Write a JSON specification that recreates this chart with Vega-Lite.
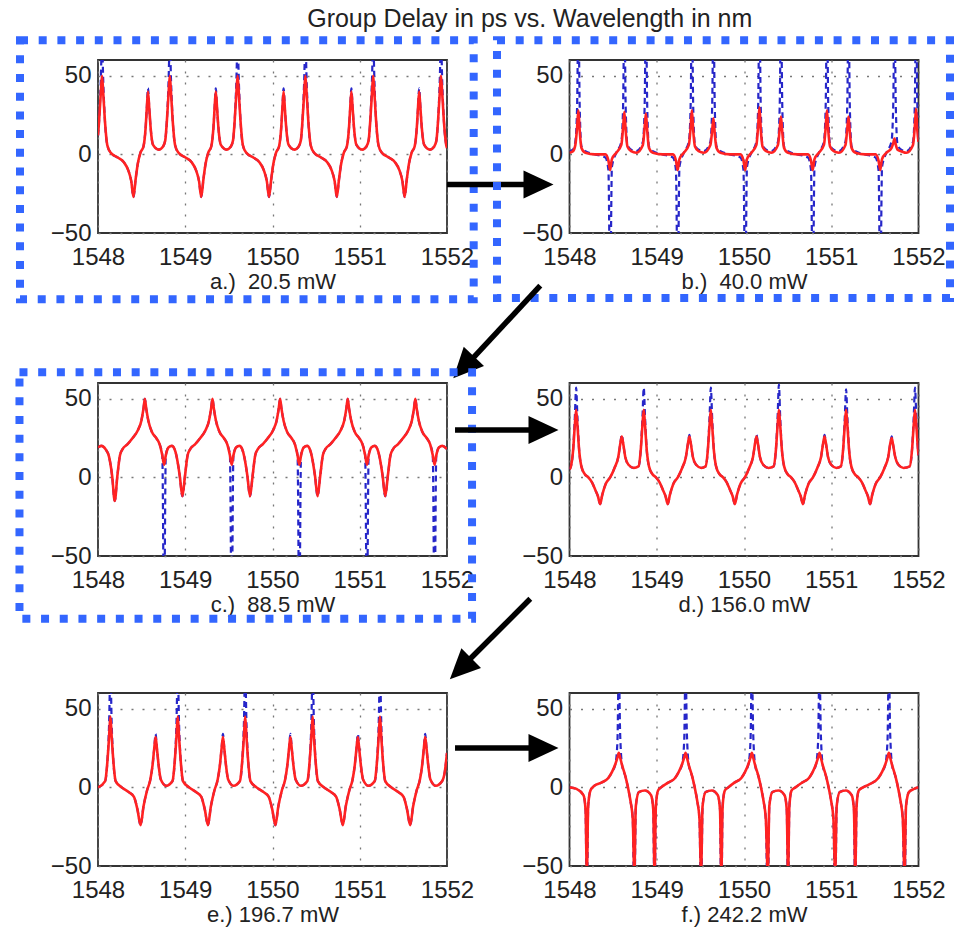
{
  "$schema": "https://vega.github.io/schema/vega-lite/v6.json",
  "background": "white",
  "padding": {"left": 14, "top": 7, "right": 2, "bottom": 0},
  "title": {"text": "Group Delay in ps vs. Wavelength in nm", "anchor": "middle", "fontSize": 25, "fontWeight": "normal", "font": "Liberation Sans", "color": "#222222", "offset": 3, "dx": 45},
  "config": {
    "font": "Liberation Sans",
    "view": {"stroke": "#333333", "strokeWidth": 1.8},
    "axis": {"grid": true, "gridColor": "#777777", "gridDash": [2, 9], "gridWidth": 1.3, "domain": false, "ticks": false, "tickSize": 0, "labelFontSize": 24, "labelColor": "#222222", "labelFont": "Liberation Sans", "labelFlush": false, "labelOverlap": false, "labelBound": false, "titleFont": "Liberation Sans", "titleFontSize": 22, "titleFontWeight": "normal", "titleColor": "#222222"},
    "axisX": {"labelPadding": 12, "titlePadding": 2.5},
    "axisY": {"labelPadding": 7}
  },
  "datasets": {
    "boxes": [
      {"p": "a", "x": 1547.106, "x2": 1552.306, "y": 72.5, "y2": -92.2},
      {"p": "b", "x": 1547.169, "x2": 1552.361, "y": 72.5, "y2": -91.3},
      {"p": "c", "x": 1547.100, "x2": 1552.287, "y": 66.8, "y2": -89.9}
    ],
    "shafts": [
      {"p": "a", "x": 1552.0, "y": -19.2, "x2": 1552.95, "y2": -19.2},
      {"p": "b", "x": 1547.665, "y": -83.5, "x2": 1546.84, "y2": -132.8},
      {"p": "c", "x": 1552.092, "y": 30.1, "x2": 1553.03, "y2": 30.1},
      {"p": "d", "x": 1547.551, "y": -77.2, "x2": 1546.825, "y2": -117.4},
      {"p": "e", "x": 1552.092, "y": 25.0, "x2": 1553.03, "y2": 25.0}
    ],
    "heads": [
      {"p": "a", "x": 1553.049, "y": -19.2},
      {"p": "b", "x": 1546.786, "y": -135.4},
      {"p": "c", "x": 1553.106, "y": 30.1},
      {"p": "d", "x": 1546.751, "y": -121.6},
      {"p": "e", "x": 1553.106, "y": 25.0}
    ],
    "curves": [
      {"p":"a","x":1548.000,"r":12,"b":12},
      {"p":"a","x":1548.011,"r":20,"b":20},
      {"p":"a","x":1548.031,"r":38,"b":45},
      {"p":"a","x":1548.046,"r":50,"b":72},
      {"p":"a","x":1548.061,"r":38,"b":45},
      {"p":"a","x":1548.081,"r":20,"b":20},
      {"p":"a","x":1548.106,"r":6,"b":6},
      {"p":"a","x":1548.146,"r":1,"b":1},
      {"p":"a","x":1548.226,"r":-2,"b":-2},
      {"p":"a","x":1548.296,"r":-5,"b":-5},
      {"p":"a","x":1548.346,"r":-10,"b":-10},
      {"p":"a","x":1548.381,"r":-17,"b":-17},
      {"p":"a","x":1548.406,"r":-27,"b":-27},
      {"p":"a","x":1548.431,"r":-16,"b":-16},
      {"p":"a","x":1548.456,"r":-6,"b":-6},
      {"p":"a","x":1548.486,"r":1,"b":1},
      {"p":"a","x":1548.521,"r":5,"b":5},
      {"p":"a","x":1548.546,"r":17,"b":17},
      {"p":"a","x":1548.559,"r":29,"b":29},
      {"p":"a","x":1548.573,"r":40,"b":42},
      {"p":"a","x":1548.588,"r":29,"b":29},
      {"p":"a","x":1548.603,"r":17,"b":17},
      {"p":"a","x":1548.631,"r":6,"b":6},
      {"p":"a","x":1548.696,"r":3,"b":3},
      {"p":"a","x":1548.746,"r":5,"b":5},
      {"p":"a","x":1548.771,"r":9,"b":9},
      {"p":"a","x":1548.788,"r":20,"b":20},
      {"p":"a","x":1548.808,"r":38,"b":45},
      {"p":"a","x":1548.823,"r":50,"b":72},
      {"p":"a","x":1548.838,"r":38,"b":45},
      {"p":"a","x":1548.858,"r":20,"b":20},
      {"p":"a","x":1548.883,"r":6,"b":6},
      {"p":"a","x":1548.923,"r":1,"b":1},
      {"p":"a","x":1549.003,"r":-2,"b":-2},
      {"p":"a","x":1549.073,"r":-5,"b":-5},
      {"p":"a","x":1549.123,"r":-10,"b":-10},
      {"p":"a","x":1549.158,"r":-17,"b":-17},
      {"p":"a","x":1549.183,"r":-27,"b":-27},
      {"p":"a","x":1549.208,"r":-16,"b":-16},
      {"p":"a","x":1549.233,"r":-6,"b":-6},
      {"p":"a","x":1549.263,"r":1,"b":1},
      {"p":"a","x":1549.298,"r":5,"b":5},
      {"p":"a","x":1549.323,"r":17,"b":17},
      {"p":"a","x":1549.336,"r":29,"b":29},
      {"p":"a","x":1549.350,"r":40,"b":42},
      {"p":"a","x":1549.365,"r":29,"b":29},
      {"p":"a","x":1549.380,"r":17,"b":17},
      {"p":"a","x":1549.408,"r":6,"b":6},
      {"p":"a","x":1549.473,"r":3,"b":3},
      {"p":"a","x":1549.523,"r":5,"b":5},
      {"p":"a","x":1549.548,"r":9,"b":9},
      {"p":"a","x":1549.565,"r":20,"b":20},
      {"p":"a","x":1549.585,"r":38,"b":45},
      {"p":"a","x":1549.600,"r":50,"b":72},
      {"p":"a","x":1549.615,"r":38,"b":45},
      {"p":"a","x":1549.635,"r":20,"b":20},
      {"p":"a","x":1549.660,"r":6,"b":6},
      {"p":"a","x":1549.700,"r":1,"b":1},
      {"p":"a","x":1549.780,"r":-2,"b":-2},
      {"p":"a","x":1549.850,"r":-5,"b":-5},
      {"p":"a","x":1549.900,"r":-10,"b":-10},
      {"p":"a","x":1549.935,"r":-17,"b":-17},
      {"p":"a","x":1549.960,"r":-27,"b":-27},
      {"p":"a","x":1549.985,"r":-16,"b":-16},
      {"p":"a","x":1550.010,"r":-6,"b":-6},
      {"p":"a","x":1550.040,"r":1,"b":1},
      {"p":"a","x":1550.075,"r":5,"b":5},
      {"p":"a","x":1550.100,"r":17,"b":17},
      {"p":"a","x":1550.113,"r":29,"b":29},
      {"p":"a","x":1550.127,"r":40,"b":42},
      {"p":"a","x":1550.142,"r":29,"b":29},
      {"p":"a","x":1550.157,"r":17,"b":17},
      {"p":"a","x":1550.185,"r":6,"b":6},
      {"p":"a","x":1550.250,"r":3,"b":3},
      {"p":"a","x":1550.300,"r":5,"b":5},
      {"p":"a","x":1550.325,"r":9,"b":9},
      {"p":"a","x":1550.342,"r":20,"b":20},
      {"p":"a","x":1550.362,"r":38,"b":45},
      {"p":"a","x":1550.377,"r":50,"b":72},
      {"p":"a","x":1550.392,"r":38,"b":45},
      {"p":"a","x":1550.412,"r":20,"b":20},
      {"p":"a","x":1550.437,"r":6,"b":6},
      {"p":"a","x":1550.477,"r":1,"b":1},
      {"p":"a","x":1550.557,"r":-2,"b":-2},
      {"p":"a","x":1550.627,"r":-5,"b":-5},
      {"p":"a","x":1550.677,"r":-10,"b":-10},
      {"p":"a","x":1550.712,"r":-17,"b":-17},
      {"p":"a","x":1550.737,"r":-27,"b":-27},
      {"p":"a","x":1550.762,"r":-16,"b":-16},
      {"p":"a","x":1550.787,"r":-6,"b":-6},
      {"p":"a","x":1550.817,"r":1,"b":1},
      {"p":"a","x":1550.852,"r":5,"b":5},
      {"p":"a","x":1550.877,"r":17,"b":17},
      {"p":"a","x":1550.890,"r":29,"b":29},
      {"p":"a","x":1550.904,"r":40,"b":42},
      {"p":"a","x":1550.919,"r":29,"b":29},
      {"p":"a","x":1550.934,"r":17,"b":17},
      {"p":"a","x":1550.962,"r":6,"b":6},
      {"p":"a","x":1551.027,"r":3,"b":3},
      {"p":"a","x":1551.077,"r":5,"b":5},
      {"p":"a","x":1551.102,"r":9,"b":9},
      {"p":"a","x":1551.119,"r":20,"b":20},
      {"p":"a","x":1551.139,"r":38,"b":45},
      {"p":"a","x":1551.154,"r":50,"b":72},
      {"p":"a","x":1551.169,"r":38,"b":45},
      {"p":"a","x":1551.189,"r":20,"b":20},
      {"p":"a","x":1551.214,"r":6,"b":6},
      {"p":"a","x":1551.254,"r":1,"b":1},
      {"p":"a","x":1551.334,"r":-2,"b":-2},
      {"p":"a","x":1551.404,"r":-5,"b":-5},
      {"p":"a","x":1551.454,"r":-10,"b":-10},
      {"p":"a","x":1551.489,"r":-17,"b":-17},
      {"p":"a","x":1551.514,"r":-27,"b":-27},
      {"p":"a","x":1551.539,"r":-16,"b":-16},
      {"p":"a","x":1551.564,"r":-6,"b":-6},
      {"p":"a","x":1551.594,"r":1,"b":1},
      {"p":"a","x":1551.629,"r":5,"b":5},
      {"p":"a","x":1551.654,"r":17,"b":17},
      {"p":"a","x":1551.667,"r":29,"b":29},
      {"p":"a","x":1551.681,"r":40,"b":42},
      {"p":"a","x":1551.696,"r":29,"b":29},
      {"p":"a","x":1551.711,"r":17,"b":17},
      {"p":"a","x":1551.739,"r":6,"b":6},
      {"p":"a","x":1551.804,"r":3,"b":3},
      {"p":"a","x":1551.854,"r":5,"b":5},
      {"p":"a","x":1551.879,"r":9,"b":9},
      {"p":"a","x":1551.896,"r":20,"b":20},
      {"p":"a","x":1551.916,"r":38,"b":45},
      {"p":"a","x":1551.931,"r":50,"b":72},
      {"p":"a","x":1551.946,"r":38,"b":45},
      {"p":"a","x":1551.966,"r":20,"b":20},
      {"p":"a","x":1551.991,"r":6,"b":6},
      {"p":"a","x":1552.000,"r":4,"b":4},

      {"p":"b","x":1548.000,"r":1,"b":2},
      {"p":"b","x":1548.040,"r":2,"b":3},
      {"p":"b","x":1548.067,"r":6,"b":8},
      {"p":"b","x":1548.087,"r":17,"b":30},
      {"p":"b","x":1548.102,"r":28,"b":90},
      {"p":"b","x":1548.117,"r":15,"b":30},
      {"p":"b","x":1548.137,"r":4,"b":5},
      {"p":"b","x":1548.182,"r":1,"b":2},
      {"p":"b","x":1548.292,"r":0,"b":0},
      {"p":"b","x":1548.412,"r":0,"b":-2},
      {"p":"b","x":1548.446,"r":-4,"b":-10},
      {"p":"b","x":1548.466,"r":-10,"b":-90},
      {"p":"b","x":1548.486,"r":-3,"b":-8},
      {"p":"b","x":1548.536,"r":1,"b":1},
      {"p":"b","x":1548.594,"r":6,"b":8},
      {"p":"b","x":1548.614,"r":17,"b":30},
      {"p":"b","x":1548.629,"r":27,"b":90},
      {"p":"b","x":1548.644,"r":15,"b":30},
      {"p":"b","x":1548.664,"r":5,"b":6},
      {"p":"b","x":1548.706,"r":2,"b":3},
      {"p":"b","x":1548.766,"r":1,"b":2},
      {"p":"b","x":1548.841,"r":6,"b":8},
      {"p":"b","x":1548.861,"r":17,"b":30},
      {"p":"b","x":1548.876,"r":26,"b":90},
      {"p":"b","x":1548.891,"r":15,"b":30},
      {"p":"b","x":1548.911,"r":4,"b":5},
      {"p":"b","x":1548.956,"r":1,"b":2},
      {"p":"b","x":1549.066,"r":0,"b":0},
      {"p":"b","x":1549.186,"r":0,"b":-2},
      {"p":"b","x":1549.220,"r":-4,"b":-10},
      {"p":"b","x":1549.240,"r":-10,"b":-90},
      {"p":"b","x":1549.260,"r":-3,"b":-8},
      {"p":"b","x":1549.310,"r":1,"b":1},
      {"p":"b","x":1549.368,"r":6,"b":8},
      {"p":"b","x":1549.388,"r":17,"b":30},
      {"p":"b","x":1549.403,"r":28,"b":90},
      {"p":"b","x":1549.418,"r":15,"b":30},
      {"p":"b","x":1549.438,"r":5,"b":6},
      {"p":"b","x":1549.480,"r":2,"b":3},
      {"p":"b","x":1549.540,"r":1,"b":2},
      {"p":"b","x":1549.615,"r":6,"b":8},
      {"p":"b","x":1549.635,"r":15,"b":30},
      {"p":"b","x":1549.650,"r":23,"b":90},
      {"p":"b","x":1549.665,"r":13,"b":30},
      {"p":"b","x":1549.685,"r":4,"b":5},
      {"p":"b","x":1549.730,"r":1,"b":2},
      {"p":"b","x":1549.840,"r":0,"b":0},
      {"p":"b","x":1549.960,"r":0,"b":-2},
      {"p":"b","x":1549.994,"r":-4,"b":-10},
      {"p":"b","x":1550.014,"r":-10,"b":-90},
      {"p":"b","x":1550.034,"r":-3,"b":-8},
      {"p":"b","x":1550.084,"r":1,"b":1},
      {"p":"b","x":1550.142,"r":6,"b":8},
      {"p":"b","x":1550.162,"r":18,"b":30},
      {"p":"b","x":1550.177,"r":30,"b":90},
      {"p":"b","x":1550.192,"r":16,"b":30},
      {"p":"b","x":1550.212,"r":5,"b":6},
      {"p":"b","x":1550.254,"r":2,"b":3},
      {"p":"b","x":1550.314,"r":1,"b":2},
      {"p":"b","x":1550.389,"r":6,"b":8},
      {"p":"b","x":1550.409,"r":16,"b":30},
      {"p":"b","x":1550.424,"r":24,"b":90},
      {"p":"b","x":1550.439,"r":14,"b":30},
      {"p":"b","x":1550.459,"r":4,"b":5},
      {"p":"b","x":1550.504,"r":1,"b":2},
      {"p":"b","x":1550.614,"r":0,"b":0},
      {"p":"b","x":1550.734,"r":0,"b":-2},
      {"p":"b","x":1550.768,"r":-4,"b":-10},
      {"p":"b","x":1550.788,"r":-10,"b":-90},
      {"p":"b","x":1550.808,"r":-3,"b":-8},
      {"p":"b","x":1550.858,"r":1,"b":1},
      {"p":"b","x":1550.916,"r":6,"b":8},
      {"p":"b","x":1550.936,"r":17,"b":30},
      {"p":"b","x":1550.951,"r":28,"b":90},
      {"p":"b","x":1550.966,"r":15,"b":30},
      {"p":"b","x":1550.986,"r":5,"b":6},
      {"p":"b","x":1551.028,"r":2,"b":3},
      {"p":"b","x":1551.088,"r":1,"b":2},
      {"p":"b","x":1551.163,"r":6,"b":8},
      {"p":"b","x":1551.183,"r":16,"b":30},
      {"p":"b","x":1551.198,"r":24,"b":90},
      {"p":"b","x":1551.213,"r":14,"b":30},
      {"p":"b","x":1551.233,"r":4,"b":5},
      {"p":"b","x":1551.278,"r":1,"b":2},
      {"p":"b","x":1551.388,"r":0,"b":0},
      {"p":"b","x":1551.508,"r":0,"b":-2},
      {"p":"b","x":1551.542,"r":-4,"b":-10},
      {"p":"b","x":1551.562,"r":-10,"b":-90},
      {"p":"b","x":1551.582,"r":-3,"b":-8},
      {"p":"b","x":1551.632,"r":1,"b":1},
      {"p":"b","x":1551.690,"r":4,"b":8},
      {"p":"b","x":1551.710,"r":7,"b":30},
      {"p":"b","x":1551.725,"r":10,"b":90},
      {"p":"b","x":1551.740,"r":6,"b":30},
      {"p":"b","x":1551.760,"r":3,"b":6},
      {"p":"b","x":1551.802,"r":2,"b":3},
      {"p":"b","x":1551.862,"r":1,"b":2},
      {"p":"b","x":1551.937,"r":6,"b":8},
      {"p":"b","x":1551.957,"r":17,"b":30},
      {"p":"b","x":1551.972,"r":29,"b":90},
      {"p":"b","x":1551.987,"r":15,"b":30},
      {"p":"b","x":1552.000,"r":8,"b":10},

      {"p":"c","x":1548.000,"r":19,"b":19},
      {"p":"c","x":1548.040,"r":20,"b":20},
      {"p":"c","x":1548.085,"r":18,"b":18},
      {"p":"c","x":1548.127,"r":13,"b":13},
      {"p":"c","x":1548.162,"r":1,"b":1},
      {"p":"c","x":1548.192,"r":-15,"b":-15},
      {"p":"c","x":1548.222,"r":1,"b":1},
      {"p":"c","x":1548.252,"r":14,"b":14},
      {"p":"c","x":1548.282,"r":18,"b":18},
      {"p":"c","x":1548.337,"r":21,"b":21},
      {"p":"c","x":1548.397,"r":25,"b":25},
      {"p":"c","x":1548.457,"r":30,"b":30},
      {"p":"c","x":1548.497,"r":36,"b":36},
      {"p":"c","x":1548.522,"r":44,"b":44},
      {"p":"c","x":1548.537,"r":50,"b":50},
      {"p":"c","x":1548.552,"r":44,"b":44},
      {"p":"c","x":1548.577,"r":36,"b":36},
      {"p":"c","x":1548.617,"r":29,"b":29},
      {"p":"c","x":1548.667,"r":25,"b":25},
      {"p":"c","x":1548.707,"r":21,"b":21},
      {"p":"c","x":1548.737,"r":14,"b":14},
      {"p":"c","x":1548.757,"r":8,"b":-90},
      {"p":"c","x":1548.777,"r":14,"b":14},
      {"p":"c","x":1548.807,"r":19,"b":19},
      {"p":"c","x":1548.847,"r":20,"b":20},
      {"p":"c","x":1548.877,"r":18,"b":18},
      {"p":"c","x":1548.902,"r":13,"b":13},
      {"p":"c","x":1548.937,"r":1,"b":1},
      {"p":"c","x":1548.967,"r":-12,"b":-12},
      {"p":"c","x":1548.997,"r":1,"b":1},
      {"p":"c","x":1549.027,"r":14,"b":14},
      {"p":"c","x":1549.057,"r":18,"b":18},
      {"p":"c","x":1549.112,"r":21,"b":21},
      {"p":"c","x":1549.172,"r":25,"b":25},
      {"p":"c","x":1549.232,"r":30,"b":30},
      {"p":"c","x":1549.272,"r":36,"b":36},
      {"p":"c","x":1549.297,"r":44,"b":44},
      {"p":"c","x":1549.312,"r":50,"b":50},
      {"p":"c","x":1549.327,"r":44,"b":44},
      {"p":"c","x":1549.352,"r":36,"b":36},
      {"p":"c","x":1549.392,"r":29,"b":29},
      {"p":"c","x":1549.442,"r":25,"b":25},
      {"p":"c","x":1549.482,"r":21,"b":21},
      {"p":"c","x":1549.512,"r":14,"b":14},
      {"p":"c","x":1549.532,"r":8,"b":-90},
      {"p":"c","x":1549.552,"r":14,"b":14},
      {"p":"c","x":1549.582,"r":19,"b":19},
      {"p":"c","x":1549.622,"r":20,"b":20},
      {"p":"c","x":1549.652,"r":18,"b":18},
      {"p":"c","x":1549.677,"r":13,"b":13},
      {"p":"c","x":1549.712,"r":1,"b":1},
      {"p":"c","x":1549.742,"r":-12,"b":-12},
      {"p":"c","x":1549.772,"r":1,"b":1},
      {"p":"c","x":1549.802,"r":14,"b":14},
      {"p":"c","x":1549.832,"r":18,"b":18},
      {"p":"c","x":1549.887,"r":21,"b":21},
      {"p":"c","x":1549.947,"r":25,"b":25},
      {"p":"c","x":1550.007,"r":30,"b":30},
      {"p":"c","x":1550.047,"r":36,"b":36},
      {"p":"c","x":1550.072,"r":44,"b":44},
      {"p":"c","x":1550.087,"r":50,"b":50},
      {"p":"c","x":1550.102,"r":44,"b":44},
      {"p":"c","x":1550.127,"r":36,"b":36},
      {"p":"c","x":1550.167,"r":29,"b":29},
      {"p":"c","x":1550.217,"r":25,"b":25},
      {"p":"c","x":1550.257,"r":21,"b":21},
      {"p":"c","x":1550.287,"r":14,"b":14},
      {"p":"c","x":1550.307,"r":8,"b":-90},
      {"p":"c","x":1550.327,"r":14,"b":14},
      {"p":"c","x":1550.357,"r":19,"b":19},
      {"p":"c","x":1550.397,"r":20,"b":20},
      {"p":"c","x":1550.427,"r":18,"b":18},
      {"p":"c","x":1550.452,"r":13,"b":13},
      {"p":"c","x":1550.487,"r":1,"b":1},
      {"p":"c","x":1550.517,"r":-12,"b":-12},
      {"p":"c","x":1550.547,"r":1,"b":1},
      {"p":"c","x":1550.577,"r":14,"b":14},
      {"p":"c","x":1550.607,"r":18,"b":18},
      {"p":"c","x":1550.662,"r":21,"b":21},
      {"p":"c","x":1550.722,"r":25,"b":25},
      {"p":"c","x":1550.782,"r":30,"b":30},
      {"p":"c","x":1550.822,"r":36,"b":36},
      {"p":"c","x":1550.847,"r":44,"b":44},
      {"p":"c","x":1550.862,"r":50,"b":50},
      {"p":"c","x":1550.877,"r":44,"b":44},
      {"p":"c","x":1550.902,"r":36,"b":36},
      {"p":"c","x":1550.942,"r":29,"b":29},
      {"p":"c","x":1550.992,"r":25,"b":25},
      {"p":"c","x":1551.032,"r":21,"b":21},
      {"p":"c","x":1551.062,"r":14,"b":14},
      {"p":"c","x":1551.082,"r":8,"b":-90},
      {"p":"c","x":1551.102,"r":14,"b":14},
      {"p":"c","x":1551.132,"r":19,"b":19},
      {"p":"c","x":1551.172,"r":20,"b":20},
      {"p":"c","x":1551.202,"r":18,"b":18},
      {"p":"c","x":1551.227,"r":13,"b":13},
      {"p":"c","x":1551.262,"r":1,"b":1},
      {"p":"c","x":1551.292,"r":-12,"b":-12},
      {"p":"c","x":1551.322,"r":1,"b":1},
      {"p":"c","x":1551.352,"r":14,"b":14},
      {"p":"c","x":1551.382,"r":18,"b":18},
      {"p":"c","x":1551.437,"r":21,"b":21},
      {"p":"c","x":1551.497,"r":25,"b":25},
      {"p":"c","x":1551.557,"r":30,"b":30},
      {"p":"c","x":1551.597,"r":36,"b":36},
      {"p":"c","x":1551.622,"r":44,"b":44},
      {"p":"c","x":1551.637,"r":50,"b":50},
      {"p":"c","x":1551.652,"r":44,"b":44},
      {"p":"c","x":1551.677,"r":36,"b":36},
      {"p":"c","x":1551.717,"r":29,"b":29},
      {"p":"c","x":1551.767,"r":25,"b":25},
      {"p":"c","x":1551.807,"r":21,"b":21},
      {"p":"c","x":1551.837,"r":14,"b":14},
      {"p":"c","x":1551.857,"r":8,"b":-90},
      {"p":"c","x":1551.877,"r":14,"b":14},
      {"p":"c","x":1551.907,"r":19,"b":19},
      {"p":"c","x":1551.947,"r":20,"b":20},
      {"p":"c","x":1552.000,"r":18,"b":18},

      {"p":"d","x":1548.000,"r":5,"b":5},
      {"p":"d","x":1548.016,"r":7,"b":7},
      {"p":"d","x":1548.041,"r":17,"b":17},
      {"p":"d","x":1548.061,"r":33,"b":38},
      {"p":"d","x":1548.076,"r":43,"b":57},
      {"p":"d","x":1548.091,"r":33,"b":38},
      {"p":"d","x":1548.111,"r":17,"b":17},
      {"p":"d","x":1548.136,"r":7,"b":7},
      {"p":"d","x":1548.176,"r":2,"b":2},
      {"p":"d","x":1548.216,"r":0,"b":0},
      {"p":"d","x":1548.256,"r":-3,"b":-3},
      {"p":"d","x":1548.296,"r":-8,"b":-8},
      {"p":"d","x":1548.326,"r":-12,"b":-12},
      {"p":"d","x":1548.351,"r":-17,"b":-17},
      {"p":"d","x":1548.376,"r":-11,"b":-11},
      {"p":"d","x":1548.416,"r":-4,"b":-4},
      {"p":"d","x":1548.466,"r":0,"b":0},
      {"p":"d","x":1548.516,"r":6,"b":6},
      {"p":"d","x":1548.559,"r":13,"b":13},
      {"p":"d","x":1548.584,"r":22,"b":22},
      {"p":"d","x":1548.599,"r":26,"b":27},
      {"p":"d","x":1548.614,"r":22,"b":22},
      {"p":"d","x":1548.639,"r":13,"b":13},
      {"p":"d","x":1548.676,"r":8,"b":8},
      {"p":"d","x":1548.736,"r":6,"b":6},
      {"p":"d","x":1548.791,"r":7,"b":7},
      {"p":"d","x":1548.816,"r":17,"b":17},
      {"p":"d","x":1548.836,"r":33,"b":38},
      {"p":"d","x":1548.851,"r":43,"b":57},
      {"p":"d","x":1548.866,"r":33,"b":38},
      {"p":"d","x":1548.886,"r":17,"b":17},
      {"p":"d","x":1548.911,"r":7,"b":7},
      {"p":"d","x":1548.951,"r":2,"b":2},
      {"p":"d","x":1548.991,"r":0,"b":0},
      {"p":"d","x":1549.031,"r":-3,"b":-3},
      {"p":"d","x":1549.071,"r":-8,"b":-8},
      {"p":"d","x":1549.101,"r":-12,"b":-12},
      {"p":"d","x":1549.126,"r":-17,"b":-17},
      {"p":"d","x":1549.151,"r":-11,"b":-11},
      {"p":"d","x":1549.191,"r":-4,"b":-4},
      {"p":"d","x":1549.241,"r":0,"b":0},
      {"p":"d","x":1549.291,"r":6,"b":6},
      {"p":"d","x":1549.334,"r":13,"b":13},
      {"p":"d","x":1549.359,"r":22,"b":22},
      {"p":"d","x":1549.374,"r":26,"b":27},
      {"p":"d","x":1549.389,"r":22,"b":22},
      {"p":"d","x":1549.414,"r":13,"b":13},
      {"p":"d","x":1549.451,"r":8,"b":8},
      {"p":"d","x":1549.511,"r":6,"b":6},
      {"p":"d","x":1549.560,"r":7,"b":7},
      {"p":"d","x":1549.585,"r":17,"b":17},
      {"p":"d","x":1549.605,"r":33,"b":38},
      {"p":"d","x":1549.620,"r":43,"b":57},
      {"p":"d","x":1549.635,"r":33,"b":38},
      {"p":"d","x":1549.655,"r":17,"b":17},
      {"p":"d","x":1549.680,"r":7,"b":7},
      {"p":"d","x":1549.720,"r":2,"b":2},
      {"p":"d","x":1549.760,"r":0,"b":0},
      {"p":"d","x":1549.800,"r":-3,"b":-3},
      {"p":"d","x":1549.840,"r":-8,"b":-8},
      {"p":"d","x":1549.870,"r":-12,"b":-12},
      {"p":"d","x":1549.895,"r":-17,"b":-17},
      {"p":"d","x":1549.920,"r":-11,"b":-11},
      {"p":"d","x":1549.960,"r":-4,"b":-4},
      {"p":"d","x":1550.010,"r":0,"b":0},
      {"p":"d","x":1550.060,"r":6,"b":6},
      {"p":"d","x":1550.103,"r":13,"b":13},
      {"p":"d","x":1550.128,"r":22,"b":22},
      {"p":"d","x":1550.143,"r":26,"b":27},
      {"p":"d","x":1550.158,"r":22,"b":22},
      {"p":"d","x":1550.183,"r":13,"b":13},
      {"p":"d","x":1550.220,"r":8,"b":8},
      {"p":"d","x":1550.280,"r":6,"b":6},
      {"p":"d","x":1550.340,"r":7,"b":7},
      {"p":"d","x":1550.365,"r":17,"b":17},
      {"p":"d","x":1550.385,"r":33,"b":38},
      {"p":"d","x":1550.400,"r":43,"b":59},
      {"p":"d","x":1550.415,"r":33,"b":38},
      {"p":"d","x":1550.435,"r":17,"b":17},
      {"p":"d","x":1550.460,"r":7,"b":7},
      {"p":"d","x":1550.500,"r":2,"b":2},
      {"p":"d","x":1550.540,"r":0,"b":0},
      {"p":"d","x":1550.580,"r":-3,"b":-3},
      {"p":"d","x":1550.620,"r":-8,"b":-8},
      {"p":"d","x":1550.650,"r":-12,"b":-12},
      {"p":"d","x":1550.675,"r":-17,"b":-17},
      {"p":"d","x":1550.700,"r":-11,"b":-11},
      {"p":"d","x":1550.740,"r":-4,"b":-4},
      {"p":"d","x":1550.790,"r":0,"b":0},
      {"p":"d","x":1550.840,"r":6,"b":6},
      {"p":"d","x":1550.883,"r":13,"b":13},
      {"p":"d","x":1550.908,"r":22,"b":22},
      {"p":"d","x":1550.923,"r":26,"b":27},
      {"p":"d","x":1550.938,"r":22,"b":22},
      {"p":"d","x":1550.963,"r":13,"b":13},
      {"p":"d","x":1551.000,"r":8,"b":8},
      {"p":"d","x":1551.060,"r":6,"b":6},
      {"p":"d","x":1551.110,"r":7,"b":7},
      {"p":"d","x":1551.135,"r":17,"b":17},
      {"p":"d","x":1551.155,"r":33,"b":38},
      {"p":"d","x":1551.170,"r":43,"b":56},
      {"p":"d","x":1551.185,"r":33,"b":38},
      {"p":"d","x":1551.205,"r":17,"b":17},
      {"p":"d","x":1551.230,"r":7,"b":7},
      {"p":"d","x":1551.270,"r":2,"b":2},
      {"p":"d","x":1551.310,"r":0,"b":0},
      {"p":"d","x":1551.350,"r":-3,"b":-3},
      {"p":"d","x":1551.390,"r":-8,"b":-8},
      {"p":"d","x":1551.420,"r":-12,"b":-12},
      {"p":"d","x":1551.445,"r":-17,"b":-17},
      {"p":"d","x":1551.470,"r":-11,"b":-11},
      {"p":"d","x":1551.510,"r":-4,"b":-4},
      {"p":"d","x":1551.560,"r":0,"b":0},
      {"p":"d","x":1551.610,"r":6,"b":6},
      {"p":"d","x":1551.653,"r":13,"b":13},
      {"p":"d","x":1551.678,"r":22,"b":22},
      {"p":"d","x":1551.693,"r":25,"b":26},
      {"p":"d","x":1551.708,"r":21,"b":21},
      {"p":"d","x":1551.733,"r":13,"b":13},
      {"p":"d","x":1551.770,"r":8,"b":8},
      {"p":"d","x":1551.830,"r":6,"b":6},
      {"p":"d","x":1551.900,"r":7,"b":7},
      {"p":"d","x":1551.925,"r":17,"b":17},
      {"p":"d","x":1551.945,"r":33,"b":38},
      {"p":"d","x":1551.960,"r":43,"b":57},
      {"p":"d","x":1551.975,"r":33,"b":38},
      {"p":"d","x":1551.995,"r":17,"b":17},
      {"p":"d","x":1552.000,"r":14,"b":14},

      {"p":"e","x":1548.000,"r":0,"b":0},
      {"p":"e","x":1548.082,"r":4,"b":4},
      {"p":"e","x":1548.107,"r":16,"b":16},
      {"p":"e","x":1548.127,"r":32,"b":40},
      {"p":"e","x":1548.142,"r":45,"b":75},
      {"p":"e","x":1548.157,"r":32,"b":40},
      {"p":"e","x":1548.177,"r":16,"b":16},
      {"p":"e","x":1548.202,"r":4,"b":4},
      {"p":"e","x":1548.272,"r":0,"b":0},
      {"p":"e","x":1548.352,"r":-3,"b":-3},
      {"p":"e","x":1548.412,"r":-6,"b":-6},
      {"p":"e","x":1548.452,"r":-14,"b":-14},
      {"p":"e","x":1548.488,"r":-24,"b":-24},
      {"p":"e","x":1548.522,"r":-12,"b":-12},
      {"p":"e","x":1548.562,"r":-2,"b":-2},
      {"p":"e","x":1548.600,"r":5,"b":5},
      {"p":"e","x":1548.625,"r":14,"b":14},
      {"p":"e","x":1548.645,"r":25,"b":25},
      {"p":"e","x":1548.660,"r":32,"b":34},
      {"p":"e","x":1548.675,"r":25,"b":25},
      {"p":"e","x":1548.695,"r":14,"b":14},
      {"p":"e","x":1548.720,"r":5,"b":5},
      {"p":"e","x":1548.782,"r":1,"b":1},
      {"p":"e","x":1548.854,"r":4,"b":4},
      {"p":"e","x":1548.879,"r":16,"b":16},
      {"p":"e","x":1548.899,"r":32,"b":40},
      {"p":"e","x":1548.914,"r":45,"b":75},
      {"p":"e","x":1548.929,"r":32,"b":40},
      {"p":"e","x":1548.949,"r":16,"b":16},
      {"p":"e","x":1548.974,"r":4,"b":4},
      {"p":"e","x":1549.044,"r":0,"b":0},
      {"p":"e","x":1549.124,"r":-3,"b":-3},
      {"p":"e","x":1549.184,"r":-6,"b":-6},
      {"p":"e","x":1549.224,"r":-14,"b":-14},
      {"p":"e","x":1549.260,"r":-24,"b":-24},
      {"p":"e","x":1549.294,"r":-12,"b":-12},
      {"p":"e","x":1549.334,"r":-2,"b":-2},
      {"p":"e","x":1549.372,"r":5,"b":5},
      {"p":"e","x":1549.397,"r":14,"b":14},
      {"p":"e","x":1549.417,"r":25,"b":25},
      {"p":"e","x":1549.432,"r":32,"b":34},
      {"p":"e","x":1549.447,"r":25,"b":25},
      {"p":"e","x":1549.467,"r":14,"b":14},
      {"p":"e","x":1549.492,"r":5,"b":5},
      {"p":"e","x":1549.554,"r":1,"b":1},
      {"p":"e","x":1549.627,"r":4,"b":4},
      {"p":"e","x":1549.652,"r":16,"b":16},
      {"p":"e","x":1549.672,"r":32,"b":40},
      {"p":"e","x":1549.687,"r":45,"b":75},
      {"p":"e","x":1549.702,"r":32,"b":40},
      {"p":"e","x":1549.722,"r":16,"b":16},
      {"p":"e","x":1549.747,"r":4,"b":4},
      {"p":"e","x":1549.817,"r":0,"b":0},
      {"p":"e","x":1549.897,"r":-3,"b":-3},
      {"p":"e","x":1549.957,"r":-6,"b":-6},
      {"p":"e","x":1549.997,"r":-14,"b":-14},
      {"p":"e","x":1550.033,"r":-24,"b":-24},
      {"p":"e","x":1550.067,"r":-12,"b":-12},
      {"p":"e","x":1550.107,"r":-2,"b":-2},
      {"p":"e","x":1550.145,"r":5,"b":5},
      {"p":"e","x":1550.170,"r":14,"b":14},
      {"p":"e","x":1550.190,"r":25,"b":25},
      {"p":"e","x":1550.205,"r":32,"b":34},
      {"p":"e","x":1550.220,"r":25,"b":25},
      {"p":"e","x":1550.240,"r":14,"b":14},
      {"p":"e","x":1550.265,"r":5,"b":5},
      {"p":"e","x":1550.327,"r":1,"b":1},
      {"p":"e","x":1550.400,"r":4,"b":4},
      {"p":"e","x":1550.425,"r":16,"b":16},
      {"p":"e","x":1550.445,"r":32,"b":40},
      {"p":"e","x":1550.460,"r":45,"b":75},
      {"p":"e","x":1550.475,"r":32,"b":40},
      {"p":"e","x":1550.495,"r":16,"b":16},
      {"p":"e","x":1550.520,"r":4,"b":4},
      {"p":"e","x":1550.590,"r":0,"b":0},
      {"p":"e","x":1550.670,"r":-3,"b":-3},
      {"p":"e","x":1550.730,"r":-6,"b":-6},
      {"p":"e","x":1550.770,"r":-14,"b":-14},
      {"p":"e","x":1550.806,"r":-24,"b":-24},
      {"p":"e","x":1550.840,"r":-12,"b":-12},
      {"p":"e","x":1550.880,"r":-2,"b":-2},
      {"p":"e","x":1550.918,"r":5,"b":5},
      {"p":"e","x":1550.943,"r":14,"b":14},
      {"p":"e","x":1550.963,"r":25,"b":25},
      {"p":"e","x":1550.978,"r":32,"b":34},
      {"p":"e","x":1550.993,"r":25,"b":25},
      {"p":"e","x":1551.013,"r":14,"b":14},
      {"p":"e","x":1551.038,"r":5,"b":5},
      {"p":"e","x":1551.100,"r":1,"b":1},
      {"p":"e","x":1551.172,"r":4,"b":4},
      {"p":"e","x":1551.197,"r":16,"b":16},
      {"p":"e","x":1551.217,"r":32,"b":40},
      {"p":"e","x":1551.232,"r":45,"b":75},
      {"p":"e","x":1551.247,"r":32,"b":40},
      {"p":"e","x":1551.267,"r":16,"b":16},
      {"p":"e","x":1551.292,"r":4,"b":4},
      {"p":"e","x":1551.362,"r":0,"b":0},
      {"p":"e","x":1551.442,"r":-3,"b":-3},
      {"p":"e","x":1551.502,"r":-6,"b":-6},
      {"p":"e","x":1551.542,"r":-14,"b":-14},
      {"p":"e","x":1551.578,"r":-24,"b":-24},
      {"p":"e","x":1551.612,"r":-12,"b":-12},
      {"p":"e","x":1551.652,"r":-2,"b":-2},
      {"p":"e","x":1551.690,"r":5,"b":5},
      {"p":"e","x":1551.715,"r":14,"b":14},
      {"p":"e","x":1551.735,"r":25,"b":25},
      {"p":"e","x":1551.750,"r":32,"b":34},
      {"p":"e","x":1551.765,"r":25,"b":25},
      {"p":"e","x":1551.785,"r":14,"b":14},
      {"p":"e","x":1551.810,"r":5,"b":5},
      {"p":"e","x":1551.872,"r":1,"b":1},
      {"p":"e","x":1551.945,"r":4,"b":4},
      {"p":"e","x":1551.975,"r":10,"b":10},
      {"p":"e","x":1552.000,"r":22,"b":22},

      {"p":"f","x":1548.000,"r":0,"b":0},
      {"p":"f","x":1548.080,"r":-1,"b":-1},
      {"p":"f","x":1548.160,"r":-5,"b":-5},
      {"p":"f","x":1548.184,"r":-14,"b":-14},
      {"p":"f","x":1548.199,"r":-55,"b":-80},
      {"p":"f","x":1548.214,"r":-12,"b":-12},
      {"p":"f","x":1548.240,"r":-2,"b":-2},
      {"p":"f","x":1548.285,"r":1,"b":1},
      {"p":"f","x":1548.365,"r":3,"b":3},
      {"p":"f","x":1548.445,"r":6,"b":6},
      {"p":"f","x":1548.489,"r":10,"b":10},
      {"p":"f","x":1548.527,"r":15,"b":15},
      {"p":"f","x":1548.550,"r":19,"b":30},
      {"p":"f","x":1548.565,"r":22,"b":80},
      {"p":"f","x":1548.580,"r":19,"b":35},
      {"p":"f","x":1548.603,"r":14,"b":14},
      {"p":"f","x":1548.641,"r":7,"b":7},
      {"p":"f","x":1548.670,"r":0,"b":0},
      {"p":"f","x":1548.700,"r":-9,"b":-9},
      {"p":"f","x":1548.725,"r":-20,"b":-20},
      {"p":"f","x":1548.743,"r":-55,"b":-80},
      {"p":"f","x":1548.760,"r":-12,"b":-12},
      {"p":"f","x":1548.795,"r":-3,"b":-3},
      {"p":"f","x":1548.865,"r":-2,"b":-2},
      {"p":"f","x":1548.935,"r":-5,"b":-5},
      {"p":"f","x":1548.960,"r":-14,"b":-14},
      {"p":"f","x":1548.975,"r":-55,"b":-80},
      {"p":"f","x":1548.990,"r":-12,"b":-12},
      {"p":"f","x":1549.015,"r":-2,"b":-2},
      {"p":"f","x":1549.050,"r":0,"b":0},
      {"p":"f","x":1549.130,"r":3,"b":3},
      {"p":"f","x":1549.210,"r":6,"b":6},
      {"p":"f","x":1549.254,"r":10,"b":10},
      {"p":"f","x":1549.292,"r":15,"b":15},
      {"p":"f","x":1549.315,"r":19,"b":30},
      {"p":"f","x":1549.330,"r":22,"b":80},
      {"p":"f","x":1549.345,"r":19,"b":35},
      {"p":"f","x":1549.368,"r":14,"b":14},
      {"p":"f","x":1549.406,"r":7,"b":7},
      {"p":"f","x":1549.435,"r":0,"b":0},
      {"p":"f","x":1549.465,"r":-9,"b":-9},
      {"p":"f","x":1549.490,"r":-20,"b":-20},
      {"p":"f","x":1549.508,"r":-55,"b":-80},
      {"p":"f","x":1549.525,"r":-12,"b":-12},
      {"p":"f","x":1549.560,"r":-3,"b":-3},
      {"p":"f","x":1549.630,"r":-2,"b":-2},
      {"p":"f","x":1549.700,"r":-5,"b":-5},
      {"p":"f","x":1549.725,"r":-14,"b":-14},
      {"p":"f","x":1549.740,"r":-55,"b":-80},
      {"p":"f","x":1549.755,"r":-12,"b":-12},
      {"p":"f","x":1549.780,"r":-2,"b":-2},
      {"p":"f","x":1549.820,"r":0,"b":0},
      {"p":"f","x":1549.890,"r":3,"b":3},
      {"p":"f","x":1549.970,"r":6,"b":6},
      {"p":"f","x":1550.014,"r":10,"b":10},
      {"p":"f","x":1550.052,"r":15,"b":15},
      {"p":"f","x":1550.075,"r":19,"b":30},
      {"p":"f","x":1550.090,"r":22,"b":80},
      {"p":"f","x":1550.105,"r":19,"b":35},
      {"p":"f","x":1550.128,"r":14,"b":14},
      {"p":"f","x":1550.166,"r":7,"b":7},
      {"p":"f","x":1550.195,"r":0,"b":0},
      {"p":"f","x":1550.225,"r":-9,"b":-9},
      {"p":"f","x":1550.250,"r":-20,"b":-20},
      {"p":"f","x":1550.273,"r":-55,"b":-80},
      {"p":"f","x":1550.290,"r":-12,"b":-12},
      {"p":"f","x":1550.325,"r":-3,"b":-3},
      {"p":"f","x":1550.395,"r":-2,"b":-2},
      {"p":"f","x":1550.465,"r":-5,"b":-5},
      {"p":"f","x":1550.490,"r":-14,"b":-14},
      {"p":"f","x":1550.505,"r":-55,"b":-80},
      {"p":"f","x":1550.520,"r":-12,"b":-12},
      {"p":"f","x":1550.545,"r":-2,"b":-2},
      {"p":"f","x":1550.590,"r":0,"b":0},
      {"p":"f","x":1550.665,"r":3,"b":3},
      {"p":"f","x":1550.745,"r":6,"b":6},
      {"p":"f","x":1550.789,"r":10,"b":10},
      {"p":"f","x":1550.827,"r":15,"b":15},
      {"p":"f","x":1550.850,"r":19,"b":30},
      {"p":"f","x":1550.865,"r":22,"b":80},
      {"p":"f","x":1550.880,"r":19,"b":35},
      {"p":"f","x":1550.903,"r":14,"b":14},
      {"p":"f","x":1550.941,"r":7,"b":7},
      {"p":"f","x":1550.970,"r":0,"b":0},
      {"p":"f","x":1551.000,"r":-9,"b":-9},
      {"p":"f","x":1551.025,"r":-20,"b":-20},
      {"p":"f","x":1551.045,"r":-55,"b":-80},
      {"p":"f","x":1551.062,"r":-12,"b":-12},
      {"p":"f","x":1551.097,"r":-3,"b":-3},
      {"p":"f","x":1551.167,"r":-2,"b":-2},
      {"p":"f","x":1551.235,"r":-5,"b":-5},
      {"p":"f","x":1551.260,"r":-14,"b":-14},
      {"p":"f","x":1551.275,"r":-55,"b":-80},
      {"p":"f","x":1551.290,"r":-12,"b":-12},
      {"p":"f","x":1551.315,"r":-2,"b":-2},
      {"p":"f","x":1551.365,"r":0,"b":0},
      {"p":"f","x":1551.440,"r":2,"b":2},
      {"p":"f","x":1551.540,"r":6,"b":6},
      {"p":"f","x":1551.584,"r":10,"b":10},
      {"p":"f","x":1551.622,"r":15,"b":15},
      {"p":"f","x":1551.645,"r":19,"b":30},
      {"p":"f","x":1551.660,"r":22,"b":80},
      {"p":"f","x":1551.675,"r":19,"b":35},
      {"p":"f","x":1551.698,"r":14,"b":14},
      {"p":"f","x":1551.736,"r":7,"b":7},
      {"p":"f","x":1551.765,"r":0,"b":0},
      {"p":"f","x":1551.795,"r":-9,"b":-9},
      {"p":"f","x":1551.820,"r":-20,"b":-20},
      {"p":"f","x":1551.840,"r":-55,"b":-80},
      {"p":"f","x":1551.857,"r":-12,"b":-12},
      {"p":"f","x":1551.890,"r":-3,"b":-3},
      {"p":"f","x":1551.950,"r":-1,"b":-1},
      {"p":"f","x":1552.000,"r":0,"b":0}
    ]
  },
  "bounds": "flush",
  "columns": 2,
  "spacing": {"row": 0, "column": 122.5},
  "concat": [
    {
      "width": 349, "height": 173,
      "encoding": {"x": {"field": "x", "type": "quantitative", "scale": {"domain": [1548, 1552], "nice": false, "zero": false}, "axis": {"values": [1548, 1549, 1550, 1551, 1552], "format": "d", "title": "a.)\u00a0 20.5 mW"}}},
      "layer": [
        {"data": {"name": "curves"}, "transform": [{"filter": "datum.p == 'a'"}], "mark": {"type": "line", "clip": true, "interpolate": "monotone", "color": "#2626c9", "strokeWidth": 2.2, "strokeDash": [6, 4]}, "encoding": {"y": {"field": "b", "type": "quantitative", "scale": {"domain": [-50, 60], "nice": false, "zero": false}, "axis": {"values": [-50, 0, 50], "title": null}}}},
        {"data": {"name": "curves"}, "transform": [{"filter": "datum.p == 'a'"}], "mark": {"type": "line", "clip": true, "interpolate": "monotone", "color": "#ff2222", "strokeWidth": 2.6}, "encoding": {"y": {"field": "r", "type": "quantitative", "scale": {"domain": [-50, 60], "nice": false, "zero": false}, "axis": {"values": [-50, 0, 50], "title": null}}}},
        {"data": {"name": "boxes"}, "transform": [{"filter": "datum.p == 'a'"}], "mark": {"type": "rect", "filled": false, "color": "#3366ff", "strokeWidth": 8, "strokeDash": [8, 10.7]}, "encoding": {"x2": {"field": "x2"}, "y": {"field": "y", "type": "quantitative", "scale": {"domain": [-50, 60], "nice": false, "zero": false}, "axis": {"values": [-50, 0, 50], "title": null}}, "y2": {"field": "y2"}}},
        {"data": {"name": "shafts"}, "transform": [{"filter": "datum.p == 'a'"}], "mark": {"type": "rule", "color": "black", "strokeWidth": 5.5, "strokeCap": "butt"}, "encoding": {"x2": {"field": "x2"}, "y": {"field": "y", "type": "quantitative", "scale": {"domain": [-50, 60], "nice": false, "zero": false}, "axis": {"values": [-50, 0, 50], "title": null}}, "y2": {"field": "y2"}}},
        {"data": {"name": "heads"}, "transform": [{"filter": "datum.p == 'a'"}], "mark": {"type": "point", "shape": "M-1,-0.93L1,0L-1,0.93Z", "filled": true, "color": "black", "opacity": 1, "size": 900, "strokeWidth": 0}, "encoding": {"y": {"field": "y", "type": "quantitative", "scale": {"domain": [-50, 60], "nice": false, "zero": false}, "axis": {"values": [-50, 0, 50], "title": null}}}}
      ]
    },
    {
      "width": 349, "height": 173,
      "encoding": {"x": {"field": "x", "type": "quantitative", "scale": {"domain": [1548, 1552], "nice": false, "zero": false}, "axis": {"values": [1548, 1549, 1550, 1551, 1552], "format": "d", "title": "b.)\u00a0 40.0 mW"}}},
      "layer": [
        {"data": {"name": "curves"}, "transform": [{"filter": "datum.p == 'b'"}], "mark": {"type": "line", "clip": true, "interpolate": "monotone", "color": "#2626c9", "strokeWidth": 2.2, "strokeDash": [6, 4]}, "encoding": {"y": {"field": "b", "type": "quantitative", "scale": {"domain": [-50, 60], "nice": false, "zero": false}, "axis": {"values": [-50, 0, 50], "title": null}}}},
        {"data": {"name": "curves"}, "transform": [{"filter": "datum.p == 'b'"}], "mark": {"type": "line", "clip": true, "interpolate": "monotone", "color": "#ff2222", "strokeWidth": 2.6}, "encoding": {"y": {"field": "r", "type": "quantitative", "scale": {"domain": [-50, 60], "nice": false, "zero": false}, "axis": {"values": [-50, 0, 50], "title": null}}}},
        {"data": {"name": "boxes"}, "transform": [{"filter": "datum.p == 'b'"}], "mark": {"type": "rect", "filled": false, "color": "#3366ff", "strokeWidth": 8, "strokeDash": [8, 10.7]}, "encoding": {"x2": {"field": "x2"}, "y": {"field": "y", "type": "quantitative", "scale": {"domain": [-50, 60], "nice": false, "zero": false}, "axis": {"values": [-50, 0, 50], "title": null}}, "y2": {"field": "y2"}}},
        {"data": {"name": "shafts"}, "transform": [{"filter": "datum.p == 'b'"}], "mark": {"type": "rule", "color": "black", "strokeWidth": 5.5, "strokeCap": "butt"}, "encoding": {"x2": {"field": "x2"}, "y": {"field": "y", "type": "quantitative", "scale": {"domain": [-50, 60], "nice": false, "zero": false}, "axis": {"values": [-50, 0, 50], "title": null}}, "y2": {"field": "y2"}}},
        {"data": {"name": "heads"}, "transform": [{"filter": "datum.p == 'b'"}], "mark": {"type": "point", "shape": "M-1,-0.93L1,0L-1,0.93Z", "angle": 133.4, "filled": true, "color": "black", "opacity": 1, "size": 900, "strokeWidth": 0}, "encoding": {"y": {"field": "y", "type": "quantitative", "scale": {"domain": [-50, 60], "nice": false, "zero": false}, "axis": {"values": [-50, 0, 50], "title": null}}}}
      ]
    },
    {"width": 349, "height": 149.3, "data": {"values": []}, "mark": {"type": "point", "opacity": 0}, "view": {"stroke": null}},
    {"width": 349, "height": 149.3, "data": {"values": []}, "mark": {"type": "point", "opacity": 0}, "view": {"stroke": null}},
    {
      "width": 349, "height": 173,
      "encoding": {"x": {"field": "x", "type": "quantitative", "scale": {"domain": [1548, 1552], "nice": false, "zero": false}, "axis": {"values": [1548, 1549, 1550, 1551, 1552], "format": "d", "title": "c.)\u00a0 88.5 mW"}}},
      "layer": [
        {"data": {"name": "curves"}, "transform": [{"filter": "datum.p == 'c'"}], "mark": {"type": "line", "clip": true, "interpolate": "monotone", "color": "#2626c9", "strokeWidth": 2.2, "strokeDash": [6, 4]}, "encoding": {"y": {"field": "b", "type": "quantitative", "scale": {"domain": [-50, 60], "nice": false, "zero": false}, "axis": {"values": [-50, 0, 50], "title": null}}}},
        {"data": {"name": "curves"}, "transform": [{"filter": "datum.p == 'c'"}], "mark": {"type": "line", "clip": true, "interpolate": "monotone", "color": "#ff2222", "strokeWidth": 2.6}, "encoding": {"y": {"field": "r", "type": "quantitative", "scale": {"domain": [-50, 60], "nice": false, "zero": false}, "axis": {"values": [-50, 0, 50], "title": null}}}},
        {"data": {"name": "boxes"}, "transform": [{"filter": "datum.p == 'c'"}], "mark": {"type": "rect", "filled": false, "color": "#3366ff", "strokeWidth": 8, "strokeDash": [8, 10.7]}, "encoding": {"x2": {"field": "x2"}, "y": {"field": "y", "type": "quantitative", "scale": {"domain": [-50, 60], "nice": false, "zero": false}, "axis": {"values": [-50, 0, 50], "title": null}}, "y2": {"field": "y2"}}},
        {"data": {"name": "shafts"}, "transform": [{"filter": "datum.p == 'c'"}], "mark": {"type": "rule", "color": "black", "strokeWidth": 5.5, "strokeCap": "butt"}, "encoding": {"x2": {"field": "x2"}, "y": {"field": "y", "type": "quantitative", "scale": {"domain": [-50, 60], "nice": false, "zero": false}, "axis": {"values": [-50, 0, 50], "title": null}}, "y2": {"field": "y2"}}},
        {"data": {"name": "heads"}, "transform": [{"filter": "datum.p == 'c'"}], "mark": {"type": "point", "shape": "M-1,-0.93L1,0L-1,0.93Z", "filled": true, "color": "black", "opacity": 1, "size": 900, "strokeWidth": 0}, "encoding": {"y": {"field": "y", "type": "quantitative", "scale": {"domain": [-50, 60], "nice": false, "zero": false}, "axis": {"values": [-50, 0, 50], "title": null}}}}
      ]
    },
    {
      "width": 349, "height": 173,
      "encoding": {"x": {"field": "x", "type": "quantitative", "scale": {"domain": [1548, 1552], "nice": false, "zero": false}, "axis": {"values": [1548, 1549, 1550, 1551, 1552], "format": "d", "title": "d.) 156.0 mW"}}},
      "layer": [
        {"data": {"name": "curves"}, "transform": [{"filter": "datum.p == 'd'"}], "mark": {"type": "line", "clip": true, "interpolate": "monotone", "color": "#2626c9", "strokeWidth": 2.2, "strokeDash": [6, 4]}, "encoding": {"y": {"field": "b", "type": "quantitative", "scale": {"domain": [-50, 60], "nice": false, "zero": false}, "axis": {"values": [-50, 0, 50], "title": null}}}},
        {"data": {"name": "curves"}, "transform": [{"filter": "datum.p == 'd'"}], "mark": {"type": "line", "clip": true, "interpolate": "monotone", "color": "#ff2222", "strokeWidth": 2.6}, "encoding": {"y": {"field": "r", "type": "quantitative", "scale": {"domain": [-50, 60], "nice": false, "zero": false}, "axis": {"values": [-50, 0, 50], "title": null}}}},
        {"data": {"name": "shafts"}, "transform": [{"filter": "datum.p == 'd'"}], "mark": {"type": "rule", "color": "black", "strokeWidth": 5.5, "strokeCap": "butt"}, "encoding": {"x2": {"field": "x2"}, "y": {"field": "y", "type": "quantitative", "scale": {"domain": [-50, 60], "nice": false, "zero": false}, "axis": {"values": [-50, 0, 50], "title": null}}, "y2": {"field": "y2"}}},
        {"data": {"name": "heads"}, "transform": [{"filter": "datum.p == 'd'"}], "mark": {"type": "point", "shape": "M-1,-0.93L1,0L-1,0.93Z", "angle": 135.3, "filled": true, "color": "black", "opacity": 1, "size": 900, "strokeWidth": 0}, "encoding": {"y": {"field": "y", "type": "quantitative", "scale": {"domain": [-50, 60], "nice": false, "zero": false}, "axis": {"values": [-50, 0, 50], "title": null}}}}
      ]
    },
    {"width": 349, "height": 137, "data": {"values": []}, "mark": {"type": "point", "opacity": 0}, "view": {"stroke": null}},
    {"width": 349, "height": 137, "data": {"values": []}, "mark": {"type": "point", "opacity": 0}, "view": {"stroke": null}},
    {
      "width": 349, "height": 173,
      "encoding": {"x": {"field": "x", "type": "quantitative", "scale": {"domain": [1548, 1552], "nice": false, "zero": false}, "axis": {"values": [1548, 1549, 1550, 1551, 1552], "format": "d", "title": "e.) 196.7 mW"}}},
      "layer": [
        {"data": {"name": "curves"}, "transform": [{"filter": "datum.p == 'e'"}], "mark": {"type": "line", "clip": true, "interpolate": "monotone", "color": "#2626c9", "strokeWidth": 2.2, "strokeDash": [6, 4]}, "encoding": {"y": {"field": "b", "type": "quantitative", "scale": {"domain": [-50, 60], "nice": false, "zero": false}, "axis": {"values": [-50, 0, 50], "title": null}}}},
        {"data": {"name": "curves"}, "transform": [{"filter": "datum.p == 'e'"}], "mark": {"type": "line", "clip": true, "interpolate": "monotone", "color": "#ff2222", "strokeWidth": 2.6}, "encoding": {"y": {"field": "r", "type": "quantitative", "scale": {"domain": [-50, 60], "nice": false, "zero": false}, "axis": {"values": [-50, 0, 50], "title": null}}}},
        {"data": {"name": "shafts"}, "transform": [{"filter": "datum.p == 'e'"}], "mark": {"type": "rule", "color": "black", "strokeWidth": 5.5, "strokeCap": "butt"}, "encoding": {"x2": {"field": "x2"}, "y": {"field": "y", "type": "quantitative", "scale": {"domain": [-50, 60], "nice": false, "zero": false}, "axis": {"values": [-50, 0, 50], "title": null}}, "y2": {"field": "y2"}}},
        {"data": {"name": "heads"}, "transform": [{"filter": "datum.p == 'e'"}], "mark": {"type": "point", "shape": "M-1,-0.93L1,0L-1,0.93Z", "filled": true, "color": "black", "opacity": 1, "size": 900, "strokeWidth": 0}, "encoding": {"y": {"field": "y", "type": "quantitative", "scale": {"domain": [-50, 60], "nice": false, "zero": false}, "axis": {"values": [-50, 0, 50], "title": null}}}}
      ]
    },
    {
      "width": 349, "height": 173,
      "encoding": {"x": {"field": "x", "type": "quantitative", "scale": {"domain": [1548, 1552], "nice": false, "zero": false}, "axis": {"values": [1548, 1549, 1550, 1551, 1552], "format": "d", "title": "f.) 242.2 mW"}}},
      "layer": [
        {"data": {"name": "curves"}, "transform": [{"filter": "datum.p == 'f'"}], "mark": {"type": "line", "clip": true, "interpolate": "monotone", "color": "#2626c9", "strokeWidth": 2.2, "strokeDash": [6, 4]}, "encoding": {"y": {"field": "b", "type": "quantitative", "scale": {"domain": [-50, 60], "nice": false, "zero": false}, "axis": {"values": [-50, 0, 50], "title": null}}}},
        {"data": {"name": "curves"}, "transform": [{"filter": "datum.p == 'f'"}], "mark": {"type": "line", "clip": true, "interpolate": "monotone", "color": "#ff2222", "strokeWidth": 2.6}, "encoding": {"y": {"field": "r", "type": "quantitative", "scale": {"domain": [-50, 60], "nice": false, "zero": false}, "axis": {"values": [-50, 0, 50], "title": null}}}}
      ]
    }
  ]
}
